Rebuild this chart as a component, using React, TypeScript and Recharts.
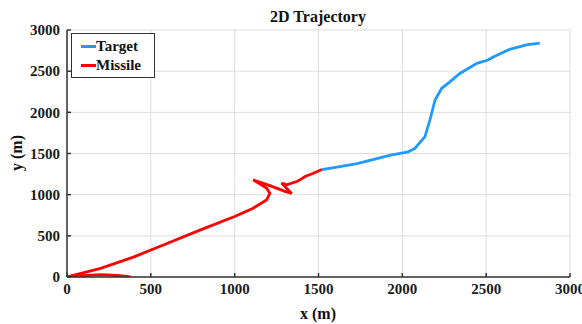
import React from 'react';
import { LineChart, Line, XAxis, YAxis, CartesianGrid, Legend } from 'recharts';

const xTicks = [0, 500, 1000, 1500, 2000, 2500, 3000];
const yTicks = [0, 500, 1000, 1500, 2000, 2500, 3000];

const targetX = [1520, 1610, 1730, 1830, 1930, 2035, 2075, 2135, 2165, 2195, 2235, 2285, 2345, 2445, 2510, 2545, 2640, 2740, 2820];
const targetY = [1305, 1335, 1378, 1428, 1480, 1520, 1562, 1705, 1910, 2150, 2292, 2373, 2475, 2595, 2635, 2675, 2765, 2820, 2840];

const missileX = [380, 300, 200, 100, 0, 200, 400, 600, 800, 1000, 1110, 1190, 1210, 1190, 1110, 1210, 1300, 1340, 1280, 1310, 1370, 1390, 1420, 1470, 1520];
const missileY = [0, 18, 28, 16, 0, 105, 245, 410, 575, 735, 835, 935, 1015, 1080, 1180, 1110, 1040, 1015, 1140, 1120, 1160, 1180, 1220, 1260, 1305];

const target = targetX.map((x, i) => ({ x, y: targetY[i] }));
const missile = missileX.map((x, i) => ({ x, y: missileY[i] }));

const FONT = "'Times New Roman', 'Liberation Serif', 'DejaVu Serif', serif";
const BLUE = '#1f9bff';
const RED = '#ff0000';

const LegendBox = () => (
  <div
    style={{
      border: '1.5px solid #333',
      background: '#fff',
      width: 84,
      height: 45,
      boxSizing: 'border-box',
      fontFamily: FONT,
      fontWeight: 'bold',
      fontSize: 15,
      color: '#111',
      padding: '3px 0 0 9px',
      textAlign: 'left',
    }}
  >
    {[
      { name: 'Target', color: BLUE },
      { name: 'Missile', color: RED },
    ].map((e) => (
      <div key={e.name} style={{ display: 'flex', alignItems: 'center', height: 19 }}>
        <span style={{ display: 'inline-block', width: 15, height: 2.5, background: e.color }} />
        <span>{e.name}</span>
      </div>
    ))}
  </div>
);

export default function App() {
  return (
    <div style={{ position: 'absolute', left: 0, top: 0, width: 582, height: 324, background: '#fff', fontFamily: FONT }}>
      <LineChart width={582} height={324} margin={{ top: 30, right: 12, left: 0, bottom: 0 }} style={{ fontFamily: FONT }}>
        <CartesianGrid stroke="#dedede" strokeWidth={1} />
        <XAxis
          dataKey="x"
          type="number"
          domain={[0, 3000]}
          ticks={xTicks}
          allowDataOverflow
          height={47}
          tickSize={-4}
          tickMargin={10}
          axisLine={{ stroke: '#333', strokeWidth: 1.5 }}
          tickLine={{ stroke: '#333', strokeWidth: 1.5 }}
          tick={{ fontFamily: FONT, fontWeight: 'bold', fontSize: 15, fill: '#1a1a1a' }}
          interval={0}
        />
        <XAxis
          xAxisId="top"
          orientation="top"
          type="number"
          domain={[0, 3000]}
          ticks={xTicks}
          height={0}
          tickSize={-4}
          tick={false}
          axisLine={{ stroke: '#333', strokeWidth: 1.5 }}
          tickLine={{ stroke: '#333', strokeWidth: 1.5 }}
        />
        <YAxis
          dataKey="y"
          type="number"
          domain={[0, 3000]}
          ticks={yTicks}
          allowDataOverflow
          width={67}
          tickSize={-4}
          tickMargin={11}
          axisLine={{ stroke: '#333', strokeWidth: 1.5 }}
          tickLine={{ stroke: '#333', strokeWidth: 1.5 }}
          tick={{ fontFamily: FONT, fontWeight: 'bold', fontSize: 15, fill: '#1a1a1a' }}
          interval={0}
        />
        <YAxis
          yAxisId="right"
          orientation="right"
          type="number"
          domain={[0, 3000]}
          ticks={yTicks}
          width={0}
          tickSize={-4}
          tick={false}
          axisLine={{ stroke: '#333', strokeWidth: 1.5 }}
          tickLine={{ stroke: '#333', strokeWidth: 1.5 }}
        />
        <Legend
          layout="horizontal"
          verticalAlign="middle"
          align="center"
          content={<LegendBox />}
          wrapperStyle={{ position: 'absolute', left: 71, top: 33, width: 84, height: 45 }}
        />
        <Line
          name="Target"
          data={target}
          dataKey="y"
          type="linear"
          stroke={BLUE}
          strokeWidth={2.8}
          dot={false}
          isAnimationActive={false}
        />
        <Line
          name="Missile"
          data={missile}
          dataKey="y"
          type="linear"
          stroke={RED}
          strokeWidth={2.8}
          dot={false}
          isAnimationActive={false}
        />
      </LineChart>
      <div
        style={{
          position: 'absolute',
          left: 0,
          width: 636,
          top: 8,
          textAlign: 'center',
          fontFamily: FONT,
          fontWeight: 'bold',
          fontSize: 16,
          lineHeight: '18px',
          color: '#111',
        }}
      >
        2D Trajectory
      </div>
      <div
        style={{
          position: 'absolute',
          left: 0,
          width: 636,
          top: 305,
          textAlign: 'center',
          fontFamily: FONT,
          fontWeight: 'bold',
          fontSize: 16,
          lineHeight: '18px',
          color: '#111',
        }}
      >
        x (m)
      </div>
      <div
        style={{
          position: 'absolute',
          left: 17,
          top: 153,
          transform: 'translate(-50%, -50%) rotate(-90deg)',
          fontFamily: FONT,
          fontWeight: 'bold',
          fontSize: 16,
          lineHeight: '18px',
          color: '#111',
          whiteSpace: 'nowrap',
        }}
      >
        y (m)
      </div>
    </div>
  );
}
